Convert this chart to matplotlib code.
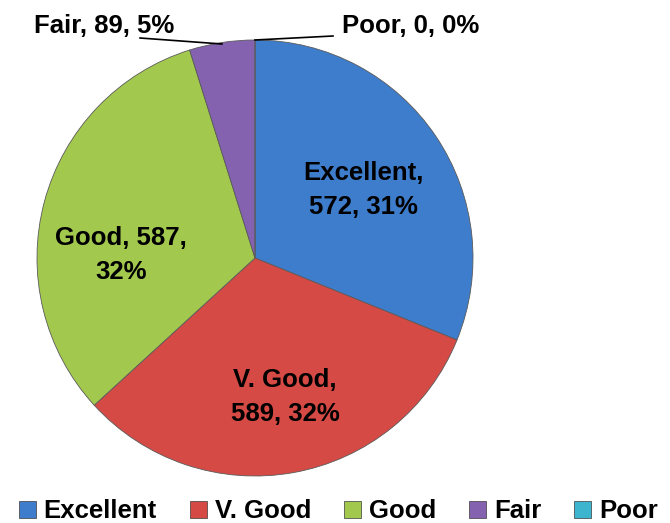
import numpy as np
import matplotlib
matplotlib.use('Agg')
from matplotlib import pyplot as plt
from matplotlib.patches import Patch

categories = ['Excellent', 'V. Good', 'Good', 'Fair', 'Poor']
counts = [572, 589, 587, 89, 0]
colors = ['#3E7DCC', '#D64A45', '#A3C84E', '#8562B0', '#3DB5CF']

plt.rcParams['font.family'] = ['Liberation Sans', 'DejaVu Sans']
plt.rcParams['font.weight'] = 'bold'

fig = plt.figure(figsize=(6.7, 5.23), dpi=100)
ax = fig.add_axes([0, 0, 1, 1])

# pie in pixel space (y down -> clockwise needs counterclock=True)
cx, cy, R = 255, 258, 218
wedges, _ = ax.pie(counts, colors=colors, startangle=-90, counterclock=True,
                   center=(cx, cy), radius=R, frame=True,
                   wedgeprops=dict(edgecolor='#5a5a5a', linewidth=0.6))
ax.set_xlim(0, 670)
ax.set_ylim(523, 0)
ax.axis('off')

total = sum(counts)
pcts = [round(100 * c / total) for c in counts]
texts = [f'{n}, {c}, {p}%' for n, c, p in zip(categories, counts, pcts)]

fs = 18.5
# inside labels (two lines)
inside = [(0, f'{categories[0]},\n{counts[0]}, {pcts[0]}%', 363, 190),
          (1, f'{categories[1]},\n{counts[1]}, {pcts[1]}%', 285, 397),
          (2, f'{categories[2]}, {counts[2]},\n{pcts[2]}%', 121, 255)]
for i, s, x, y in inside:
    ax.text(x, y, s, ha='center', va='center', fontsize=fs,
            fontweight='bold', linespacing=1.5)

# outside labels with leader lines
ax.text(104, 26, texts[3], ha='center', va='center', fontsize=fs, fontweight='bold')
ax.text(411, 26, texts[4], ha='center', va='center', fontsize=fs, fontweight='bold')
ax.plot([140, 222], [38, 44], color='black', lw=1.2)
ax.plot([255, 333], [40, 36], color='black', lw=1.2)

handles = [Patch(facecolor=c, edgecolor='#3a3a3a', linewidth=0.5) for c in colors]
ax.legend(handles, categories, loc='lower center', bbox_to_anchor=(0.505, -0.045),
          ncol=5, frameon=False, handlelength=0.65, handleheight=0.65,
          handletextpad=0.3, columnspacing=1.3, prop=dict(weight='bold', size=fs))

fig.savefig('out.png', dpi=100)
